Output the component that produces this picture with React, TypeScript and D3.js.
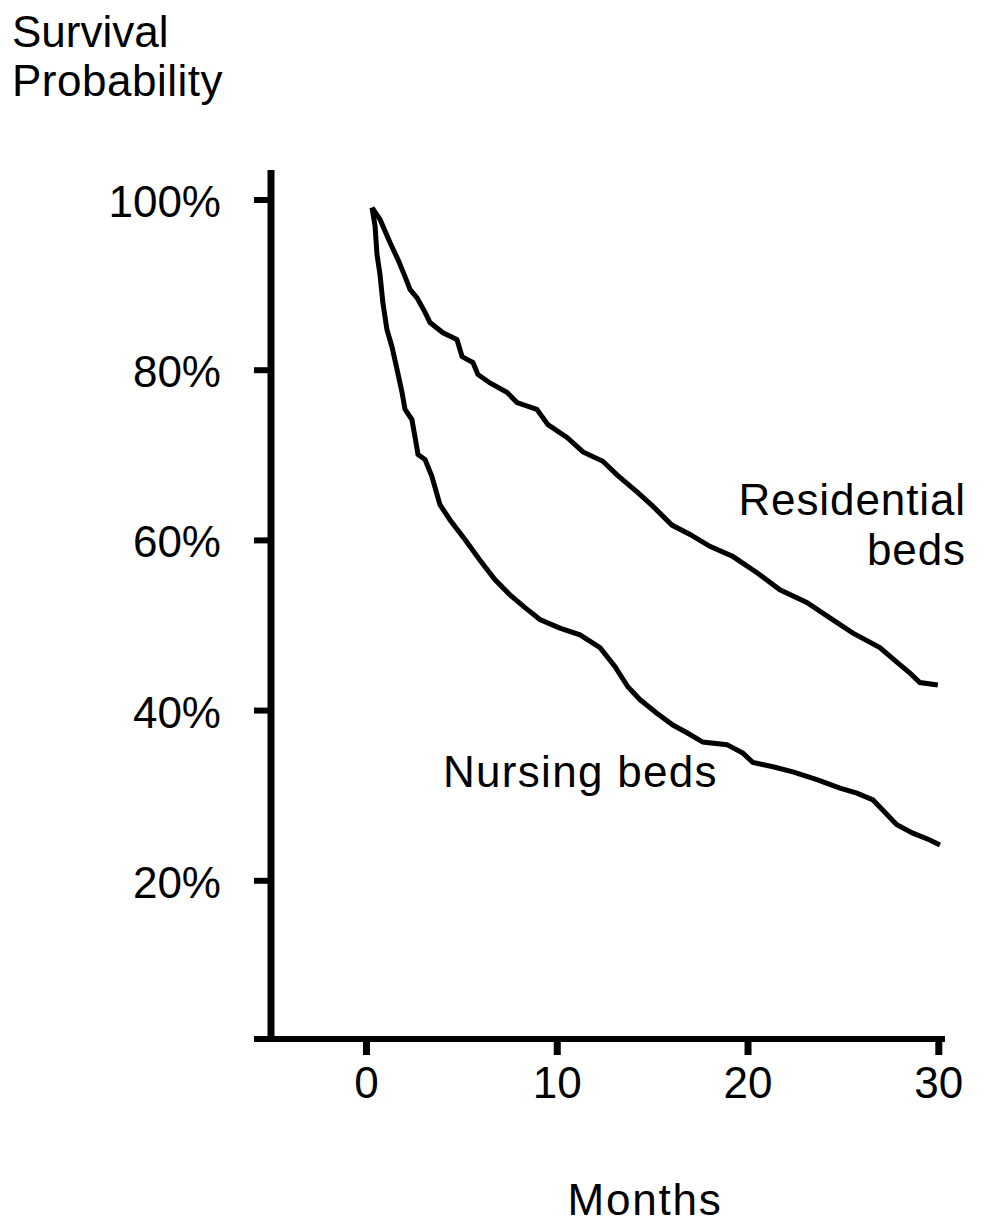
import React from "react";
import * as d3 from "d3";

const residentialMonths = [0.29, 0.71, 1.23, 1.65, 2.02, 2.28, 2.65, 3.07, 3.33, 4.01, 4.74, 5.01, 5.58, 5.84, 6.47, 7.36, 7.89, 8.93, 9.51, 10.51, 11.35, 12.39, 13.13, 14.18, 15.02, 16.01, 16.96, 18.0, 19.21, 20.47, 21.67, 23.08, 24.29, 25.5, 26.91, 27.8, 28.49, 29.01, 29.95];
const residentialSurvival = [99.1, 97.7, 95.0, 93.0, 91.0, 89.5, 88.5, 86.8, 85.6, 84.4, 83.6, 81.6, 80.9, 79.5, 78.5, 77.4, 76.2, 75.4, 73.6, 72.1, 70.4, 69.3, 67.7, 65.7, 64.0, 61.8, 60.7, 59.3, 58.1, 56.2, 54.2, 52.7, 50.9, 49.1, 47.4, 45.7, 44.4, 43.3, 43.0];

const nursingMonths = [0.29, 0.45, 0.55, 0.71, 0.86, 1.07, 1.34, 1.6, 1.86, 2.02, 2.38, 2.54, 2.7, 3.07, 3.43, 3.85, 4.38, 5.16, 5.94, 6.73, 7.52, 8.31, 9.09, 10.14, 11.19, 12.24, 13.02, 13.7, 14.33, 15.22, 16.06, 16.8, 17.63, 18.89, 19.73, 20.26, 21.31, 22.35, 23.61, 24.82, 25.71, 26.55, 27.07, 27.8, 28.64, 29.53, 30.06];
const nursingSurvival = [99.1, 96.9, 93.6, 91.2, 87.9, 84.8, 82.7, 80.1, 77.4, 75.4, 74.2, 72.2, 70.1, 69.5, 67.5, 64.2, 62.4, 60.1, 57.7, 55.4, 53.6, 52.1, 50.7, 49.7, 48.9, 47.4, 45.2, 42.8, 41.3, 39.7, 38.3, 37.4, 36.3, 36.0, 35.0, 33.9, 33.4, 32.8, 31.9, 30.9, 30.3, 29.5, 28.3, 26.6, 25.6, 24.8, 24.2];

const xTicks = [0, 10, 20, 30];
const yTicks = [100, 80, 60, 40, 20];

const FONT = "'Liberation Sans', Arial, sans-serif";

export default function App() {
  const x = d3.scaleLinear().domain([0, 30]).range([366.5, 938.8]);
  const y = d3.scaleLinear().domain([0, 100]).range([1051, 200]);
  const axisY = 1039;
  const axisX = 271;

  const line = d3
    .line<[number, number]>()
    .x((d) => x(d[0]))
    .y((d) => y(d[1]))
    .curve(d3.curveLinear);

  const res: [number, number][] = residentialMonths.map((m, i) => [m, residentialSurvival[i]]);
  const nur: [number, number][] = nursingMonths.map((m, i) => [m, nursingSurvival[i]]);

  return (
    <svg
      width={988}
      height={1227}
      style={{ position: "absolute", left: 0, top: 0, background: "#fff" }}
      fontFamily={FONT}
    >
      <rect x={0} y={0} width={988} height={1227} fill="#fff" />
      {/* Y title */}
      <text x={12} y={47} fontSize={44} fill="#000">Survival</text>
      <text x={12} y={96} fontSize={44} fill="#000" letterSpacing={0.5}>Probability</text>

      {/* axes */}
      <line x1={axisX} x2={axisX} y1={170} y2={axisY + 3} stroke="#000" strokeWidth={7} />
      <line x1={254} x2={945} y1={axisY} y2={axisY} stroke="#000" strokeWidth={6} />

      {yTicks.map((t) => (
        <g key={"y" + t}>
          <line x1={254} x2={axisX} y1={y(t)} y2={y(t)} stroke="#000" strokeWidth={6} />
          <text x={221} y={y(t) + 17} fontSize={44} textAnchor="end" fill="#000">
            {t + "%"}
          </text>
        </g>
      ))}

      {xTicks.map((t) => (
        <g key={"x" + t}>
          <line x1={x(t)} x2={x(t)} y1={axisY} y2={1055} stroke="#000" strokeWidth={7} />
          <text x={x(t)} y={1098} fontSize={44} textAnchor="middle" fill="#000">
            {t}
          </text>
        </g>
      ))}

      <text x={645} y={1215} fontSize={44} textAnchor="middle" fill="#000" letterSpacing={1.8}>Months</text>

      {/* curves */}
      <path d={line(res) || ""} fill="none" stroke="#000" strokeWidth={5} strokeLinejoin="miter" />
      <path d={line(nur) || ""} fill="none" stroke="#000" strokeWidth={5} strokeLinejoin="miter" />

      {/* labels */}
      <text x={966} y={515} fontSize={44} textAnchor="end" fill="#000" letterSpacing={0.9}>Residential</text>
      <text x={966} y={565} fontSize={44} textAnchor="end" fill="#000" letterSpacing={0.9}>beds</text>
      <text x={443} y={787} fontSize={44} fill="#000" letterSpacing={1.3}>Nursing beds</text>
    </svg>
  );
}
